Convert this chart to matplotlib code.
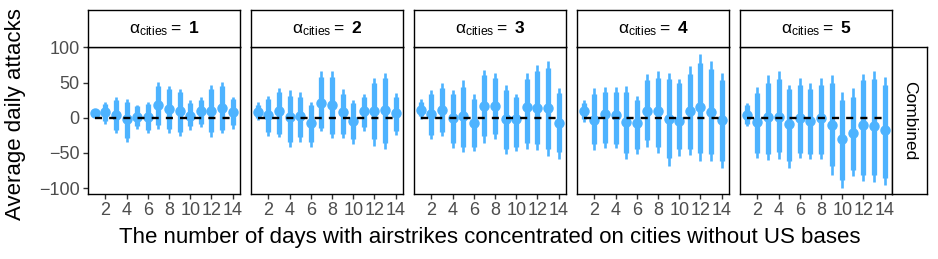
import matplotlib
matplotlib.use("Agg")
import matplotlib.pyplot as plt
import numpy as np

plt.rcParams['font.family'] = ['Liberation Sans', 'DejaVu Sans']
plt.rcParams['mathtext.fontset'] = 'custom'
plt.rcParams['mathtext.rm'] = 'Liberation Sans'
plt.rcParams['mathtext.bf'] = 'Liberation Sans:bold'
plt.rcParams['mathtext.it'] = 'Liberation Sans:italic'

# data: one row per alpha_cities facet, one column per day
days = np.arange(1, 15)
alphas = [1, 2, 3, 4, 5]

est = np.array([
    [6, 7.5, 4, -1.5, 1, 1, 18, 12, 10, 2, 9.5, 10, 14, 8.5],
    [8.5, 4, 9, 1, 3, -7.5, 21, 18, 7.5, -5, 9, 9, 11, 6.6],
    [11, 5.7, 11, -1, 2, -7.5, 17, 17, -2, -2, 15, 14, 14, -7.5],
    [9, -3, 4.7, 4, -6, -7.5, 10, 9, -2, -5, 10, 15, 7.5, -4],
    [4, -6.6, 0.5, 1, -8.5, -0.5, -5, -0.5, -10, -31, -22, -10, -12, -18],
])
lo_inner = np.array([
    [3, -5, -17, -29, -12, -17, -11, -16, -21, -12, -8.5, -21, -17, -11],
    [0, -21, -23, -34, -27, -35, -15, -23, -23, -31, -13, -31, -36, -19],
    [2, -24, -21, -36, -41, -41, -26.5, -23, -44, -41, -36, -37, -45, -49],
    [-2, -38, -36, -37, -50, -44, -32, -41, -57, -44, -44, -50, -52, -62],
    [-8.5, -50, -51, -49, -62, -50, -51, -51, -69, -88, -74, -81, -82, -86],
])
hi_inner = np.array([
    [10, 20, 25.5, 23, 16, 19, 45, 41, 36, 21, 25.5, 41, 45, 26.5],
    [18, 26.5, 37, 31, 30, 18, 58, 58, 34, 21, 29, 49, 56, 29],
    [23, 33, 42, 33, 44, 26.5, 60, 56, 39, 29, 55, 66, 70, 35],
    [21, 34, 37, 37, 37, 25.5, 54, 56, 55, 49, 62, 78, 69, 54],
    [18, 35, 50, 55, 41, 47, 41, 47, 49, 25.5, 29, 53, 55, 47],
])
lo_outer = np.array([
    [2, -8.5, -22, -35, -16, -22, -16, -22, -26, -17, -13, -27, -22, -16],
    [-4, -25.5, -27, -41, -34, -42, -19, -29, -29, -38, -19, -40, -44, -24],
    [-2, -30, -26.5, -43, -49, -48, -36, -31, -52, -48, -45, -46, -54, -59],
    [-6.6, -46, -43, -43, -59, -52, -41, -50, -68, -54, -53, -62, -62, -71],
    [-12, -57, -60.5, -59, -71, -57, -59, -59, -81, -100, -83, -90, -92, -95],
])
hi_outer = np.array([
    [12, 23, 29, 27, 18, 23, 51, 45, 41, 25, 29, 46, 51, 30],
    [22, 31, 42, 39, 36, 22, 66, 66, 41, 25.5, 34, 56, 63, 35],
    [26.5, 40, 49, 40, 53, 33, 68, 63, 47, 34, 63, 75, 80, 42],
    [25, 42, 43.5, 44, 45, 31, 62, 66, 63, 55, 73, 90, 80, 63],
    [21, 43.5, 60, 66, 47, 56, 49, 57, 60, 36, 42, 62, 66, 58],
])

blue = '#4db3ff'
grey = '#4d4d4d'

W, H = 938, 259
fig = plt.figure(figsize=(W / 100, H / 100), dpi=100)


def box(x0, y0, x1, y1):
    return [x0 / W, 1 - y1 / H, (x1 - x0) / W, (y1 - y0) / H]


lefts = [88, 251, 414, 577, 740]
pw = 152
top, bottom = 47, 194

for i, a in enumerate(alphas):
    ax = fig.add_axes(box(lefts[i], top, lefts[i] + pw, bottom))
    ax.vlines(days, lo_outer[i], hi_outer[i], color=blue, lw=1.9, zorder=2)
    ax.vlines(days, lo_inner[i], hi_inner[i], color=blue, lw=3.8, zorder=2)
    ax.plot(days, est[i], 'o', color=blue, ms=6.5, zorder=3)
    ax.plot([1, 14], [0, 0], color='black', lw=1.7, ls=(0, (3, 3)), zorder=4)
    ax.set_xlim(0.35, 14.7)
    ax.set_ylim(-108.5, 100.5)
    ax.set_xticks([2, 4, 6, 8, 10, 12, 14])
    ax.set_yticks([-100, -50, 0, 50, 100])
    ax.tick_params(axis='both', length=3.5, width=1, color='#333333',
                   labelsize=13, labelcolor=grey, pad=2.5)
    if i > 0:
        ax.tick_params(axis='y', left=False, labelleft=False)
    else:
        ax.set_yticklabels(['\u2212100', '\u221250', '0', '50', '100'])
    for s in ax.spines.values():
        s.set_linewidth(1)
        s.set_color('black')

    st = fig.add_axes(box(lefts[i], 10, lefts[i] + pw, top))
    st.set_xticks([])
    st.set_yticks([])
    for s in st.spines.values():
        s.set_linewidth(1)
    st.text(0.5, 0.5, r'$\mathrm{\alpha}_{\mathrm{cities}} = $ ' + r'$\mathbf{%d}$' % a,
            ha='center', va='center', fontsize=12.5, transform=st.transAxes)

rs = fig.add_axes(box(892, top, 927, bottom))
rs.set_xticks([])
rs.set_yticks([])
for s in rs.spines.values():
    s.set_linewidth(1)
rs.text(0.5, 0.5, 'Combined', rotation=-90, ha='center', va='center',
        fontsize=12.5, transform=rs.transAxes)

fig.text(490 / W, 1 - 237 / H,
         'The number of days with airstrikes concentrated on cities without US bases',
         ha='center', va='center', fontsize=16)
fig.text(16 / W, 1 - 114 / H, 'Average daily attacks', rotation=90,
         ha='center', va='center', fontsize=16)

fig.savefig('out.png', dpi=100)
